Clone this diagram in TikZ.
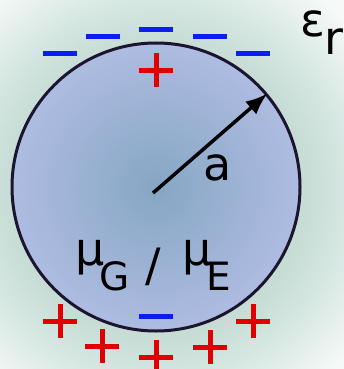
\documentclass[tikz,border=0pt]{standalone}
\usepackage{fontspec}
\setmainfont{DejaVu Sans}
\usetikzlibrary{arrows.meta}
\definecolor{bgA}{HTML}{BCD5CD}
\definecolor{bgB}{HTML}{C6DCD5}
\definecolor{bgM}{HTML}{D6E7E2}
\definecolor{bgC}{HTML}{F6F9F8}
\definecolor{ballIn}{HTML}{86A6C4}
\definecolor{ballOut}{HTML}{AEBCE1}
\definecolor{rimcol}{HTML}{1C1530}
\definecolor{negcol}{HTML}{0A1EF0}
\definecolor{poscol}{HTML}{E00000}
\pgfdeclareradialshading{bgshade}{\pgfpointorigin}{color(0bp)=(bgA); color(14bp)=(bgB); color(18bp)=(bgM); color(24bp)=(bgC); color(50bp)=(bgC)}
\pgfdeclareradialshading{ballshade}{\pgfpointorigin}{color(0bp)=(ballIn); color(25bp)=(ballOut); color(50bp)=(ballOut)}
\tikzset{
  negsign/.style={draw=negcol, line width=5pt},
  possign/.style={draw=poscol, line width=5pt},
  lbl/.style={inner sep=0pt, anchor=base west, text=black},
}
\newcommand{\negat}[2]{\draw[negsign] (#1-17,#2) -- (#1+17,#2);}
\newcommand{\posat}[2]{\draw[possign] (#1-17,#2) -- (#1+17,#2); \draw[possign] (#1,#2-17) -- (#1,#2+17);}
\begin{document}
\begin{tikzpicture}[x=1pt,y=-1pt]
\useasboundingbox (0,0) rectangle (344,369);
\begin{scope}
\clip (0,0) rectangle (344,369);
\fill[bgC] (0,0) rectangle (344,369);
\shade[shading=bgshade] (158,190) circle (262pt);
\end{scope}
\node[circle, minimum size=288pt, inner sep=0pt, shading=ballshade, draw=rimcol, line width=3pt] (ball) at (156,187) {};
\coordinate (o) at (153,193);
\draw[line width=3.5pt, -{Latex[length=22pt,width=17pt]}] (o) -- (ball.40.5);
% charges
\negat{60}{54}
\negat{102.5}{37}
\negat{156}{30}
\negat{210}{37}
\negat{252.5}{54}
\posat{156}{70}
\negat{156}{316}
\posat{60}{321}
\posat{102}{346}
\posat{156}{357}
\posat{210}{347}
\posat{253}{321}
% labels
\node[lbl, font=\fontsize{46}{46}\selectfont] (a) at (203,180) {a};
\node[lbl, font=\fontsize{46}{46}\selectfont] (mu1) at (75,265) {μ};
\node[lbl, font=\fontsize{39}{39}\selectfont] (G) at (99,290) {G};
\node[lbl, font=\fontsize{46}{46}\selectfont] (sl) at (145,281) {/};
\node[lbl, font=\fontsize{46}{46}\selectfont] (mu2) at (182,265) {μ};
\node[lbl, font=\fontsize{39}{39}\selectfont] (E) at (206,290) {E};
\node[lbl, font=\fontsize{46}{46}\selectfont] (eps) at (300,37) {ε};
\node[lbl, font=\fontsize{46}{46}\selectfont] (r) at (324,55) {r};
\end{tikzpicture}
\end{document}
